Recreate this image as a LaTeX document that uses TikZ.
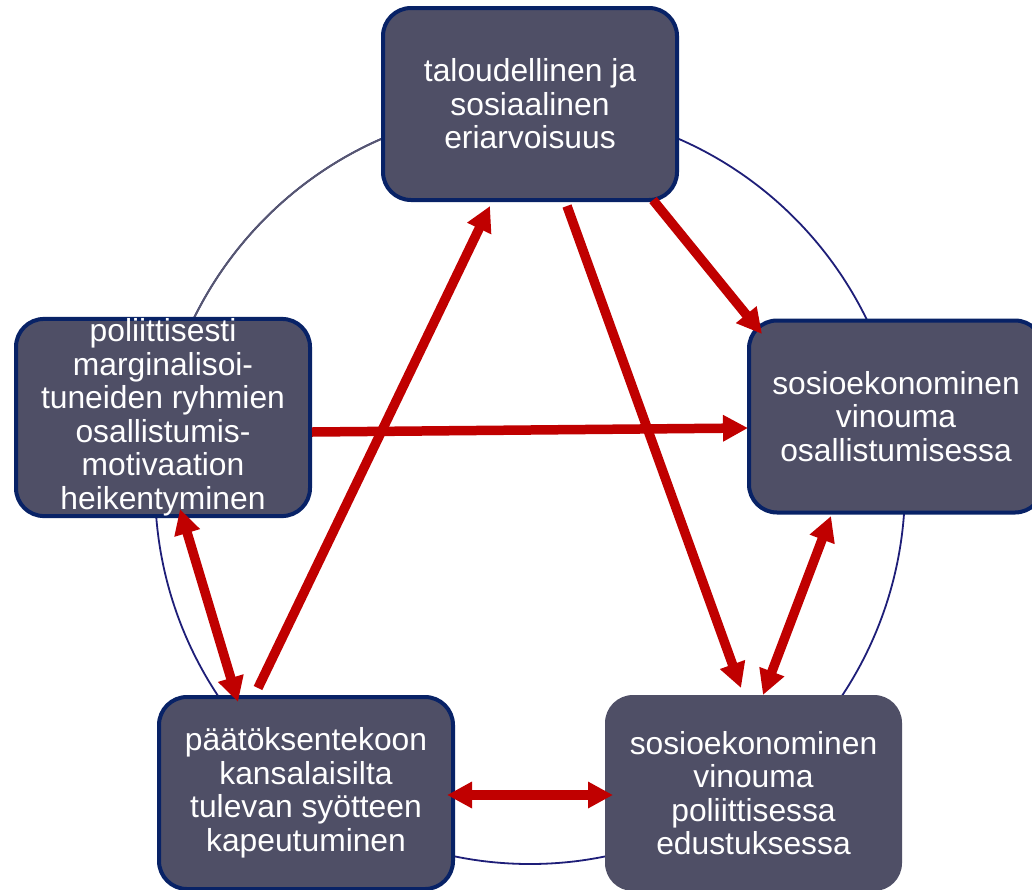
\documentclass[tikz,border=0pt]{standalone}
\usepackage{fontspec}
\setmainfont{Liberation Sans}
\usetikzlibrary{arrows.meta,calc}
\definecolor{boxfill}{RGB}{79,79,102}
\definecolor{boxline}{RGB}{8,34,102}
\definecolor{arrred}{RGB}{192,0,0}
\definecolor{ringnavy}{RGB}{30,30,120}
\definecolor{ringgray}{RGB}{88,88,112}
\begin{document}
\begin{tikzpicture}[x=1pt,y=-1pt,
  box/.style={draw=boxline, line width=4pt, fill=boxfill, rounded corners=28pt,
    minimum width=294pt, minimum height=192pt, inner sep=0pt, align=center,
    text=white, font=\fontsize{31.8}{33.5}\selectfont},
  conn/.style={draw=arrred, line width=9.5pt, -{Triangle[length=25pt,width=25pt]}},
  dconn/.style={draw=arrred, line width=9.5pt, {Triangle[length=25pt,width=25pt]}-{Triangle[length=25pt,width=25pt]}},
  ring/.style={draw=ringnavy, line width=1.8pt}]
\clip (0,0) rectangle (1032,889);
\fill[white] (0,0) rectangle (1032,889);
\draw[ring] (530,486) ellipse [x radius=375, y radius=378];
\draw[ring, draw=ringgray] ($(530,486)+(200:375 and 378)$) arc [start angle=200, end angle=250, x radius=375, y radius=378];

\node[box] (top) at (530,104) {taloudellinen ja\\sosiaalinen\\eriarvoisuus};
\node[box] (lft) at (163,417.5) {poliittisesti\\marginalisoi-\\tuneiden ryhmien\\osallistumis-\\motivaation\\heikentyminen};
\node[box] (rgt) at (896,416.5) {sosioekonominen\\vinouma\\osallistumisessa};
\node[box] (bl) at (306,793) {päätöksentekoon\\kansalaisilta\\tulevan syötteen\\kapeutuminen};
\node[box, draw=none, minimum width=297pt, minimum height=196pt] (br) at (753.5,793) {sosioekonominen\\vinouma\\poliittisessa\\edustuksessa};

\draw[conn] ($(bl.center)+(-48,-105)$) -- ($(top.center)+(-40,102)$);
\draw[conn] ($(top.center)+(37,102)$) -- ($(br.center)+(-12.5,-105)$);
\draw[conn] ($(top.center)+(123,96)$) -- ($(rgt.center)+(-134,-82.5)$);
\draw[conn] ($(lft.center)+(149,14.5)$) -- ($(rgt.center)+(-148,11.5)$);
\draw[dconn] ($(lft.center)+(17,91.5)$) -- ($(bl.center)+(-68,-91)$);
\draw[dconn] ($(rgt.center)+(-65,99.5)$) -- ($(br.center)+(9.5,-98)$);
\draw[dconn] ($(bl.center)+(141,2)$) -- ($(br.center)+(-140.5,2)$);
\end{tikzpicture}
\end{document}
